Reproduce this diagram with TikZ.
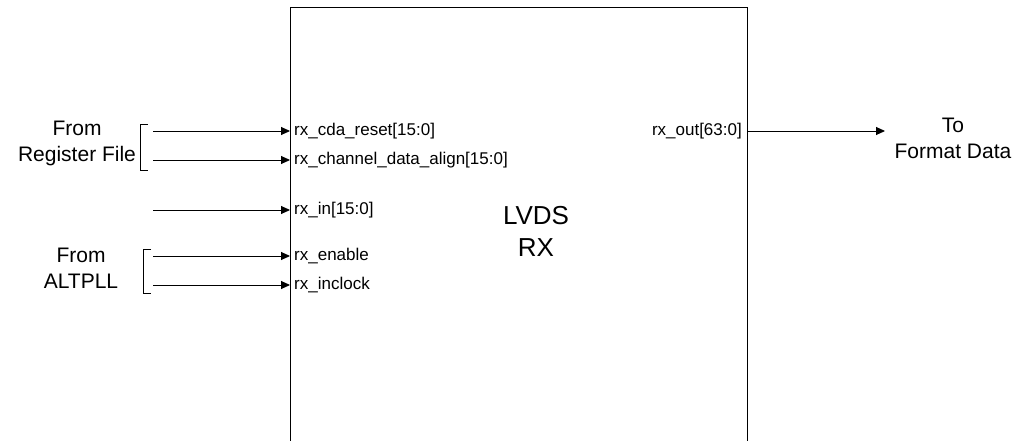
\documentclass[tikz,border=0pt]{standalone}
\usepackage{fontspec}
\setmainfont{Liberation Sans}
\usetikzlibrary{arrows.meta}

\tikzset{
  port/.style={anchor=west, inner xsep=4pt, inner ysep=0pt, font=\fontsize{17}{19}\selectfont},
  sig/.style={line width=0.9pt, -{Triangle[length=9pt,width=8pt]}},
  side/.style={align=center, font=\fontsize{21}{26}\selectfont},
  brack/.style={line width=0.9pt}
}

\begin{document}
\begin{tikzpicture}[x=1pt,y=-1pt]
   \useasboundingbox (0,0) rectangle (1018,441);
   \clip (0,0) rectangle (1018,441);

   % receiver block, runs off the bottom of the page
   \node[draw, line width=1pt, minimum width=457pt, minimum height=452pt,
         inner sep=0pt] (rx) at (518.5,234) {};
   \node[align=center, font=\fontsize{26}{32}\selectfont] (name) at (536,231) {LVDS\\RX};

   % input ports
   \foreach \y/\n/\t in {131/cda/rx\_cda\_reset[15:0],
                         160/align/rx\_channel\_data\_align[15:0],
                         210/din/rx\_in[15:0],
                         256/en/rx\_enable,
                         285/clk/rx\_inclock}
   {
      \node[port] (\n) at (290,\y) {\t};
      \coordinate (\n src) at (153,\y);
      \draw[sig] (\n src) -- (\n.west);
   }

   % output port
   \node[port, anchor=east, inner xsep=5pt] (out) at (747,131) {rx\_out[63:0]};
   \coordinate (outdst) at (885,131);
   \draw[sig] (out.east) -- (outdst);

   % sources and sink
   \draw[brack] (148,124) -- (140,124) -- (140,170) -- (148,170);
   \draw[brack] (151,249) -- (143,249) -- (143,293) -- (151,293);
   \node[side] (reg) at (77,143) {From\\Register File};
   \node[side] (pll) at (81,268) {From\\ALTPLL};
   \node[side] (fmt) at (953,138) {To\\Format Data};

\end{tikzpicture}
\end{document}
